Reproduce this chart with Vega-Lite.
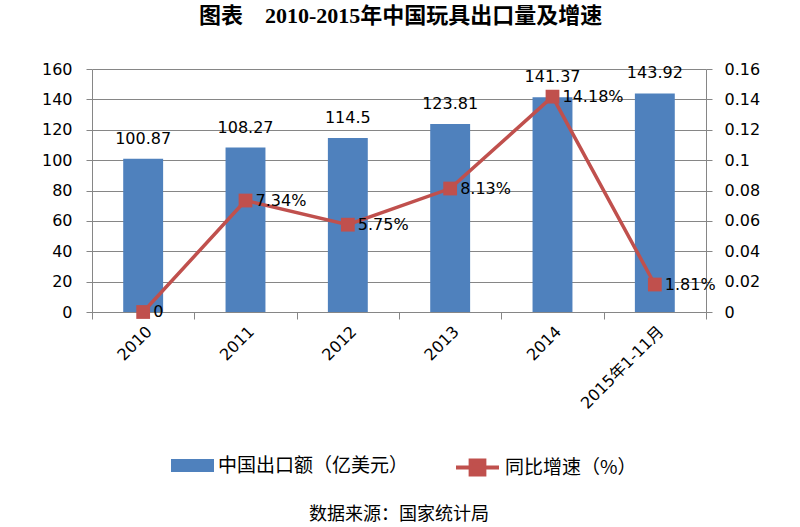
{
  "$schema": "https://vega.github.io/schema/vega-lite/v6.json",
  "padding": {"left": 41, "top": 5, "right": 5, "bottom": 5},
  "title": {
    "text": "图表　2010-2015年中国玩具出口量及增速",
    "font": "Liberation Serif, Noto Sans CJK SC",
    "fontSize": 22,
    "fontWeight": "bold",
    "color": "#000",
    "anchor": "middle",
    "offset": 33
  },
  "datasets": {
    "toys": [
      {"cat": "2010", "export": 100.87, "rate": 0, "rate_label": "0"},
      {"cat": "2011", "export": 108.27, "rate": 0.0734, "rate_label": "7.34%"},
      {"cat": "2012", "export": 114.5, "rate": 0.0575, "rate_label": "5.75%"},
      {"cat": "2013", "export": 123.81, "rate": 0.0813, "rate_label": "8.13%"},
      {"cat": "2014", "export": 141.37, "rate": 0.1418, "rate_label": "14.18%"},
      {"cat": "2015年1-11月", "export": 143.92, "rate": 0.0181, "rate_label": "1.81%"}
    ]
  },
  "vconcat": [
    {
      "width": 614,
      "height": 243,
      "title": {
        "text": "数据来源：国家统计局",
        "orient": "bottom",
        "font": "Noto Sans CJK SC",
        "fontSize": 18,
        "fontWeight": "normal",
        "color": "#000",
        "anchor": "middle",
        "offset": 95
      },
      "data": {"name": "toys"},
      "layer": [
        {
          "layer": [
            {
              "mark": {"type": "bar", "width": {"band": 0.39}},
              "encoding": {
                "x": {
                  "field": "cat", "type": "nominal", "sort": null,
                  "scale": {"paddingInner": 0, "paddingOuter": 0},
                  "axis": {"title": null, "labelAngle": -45, "tickBand": "extent", "tickSize": 7, "labelPadding": 4, "labelFont": "DejaVu Sans, Noto Sans CJK SC"}
                },
                "y": {
                  "field": "export", "type": "quantitative",
                  "scale": {"domain": [0, 160], "nice": false},
                  "axis": {"title": null, "orient": "left", "values": [0, 20, 40, 60, 80, 100, 120, 140, 160], "tickCount": 9, "labelOverlap": false, "grid": true, "tickSize": 6, "labelPadding": 14}
                },
                "fill": {
                  "datum": "中国出口额（亿美元）", "type": "nominal",
                  "scale": {"range": ["#4F81BD"]},
                  "legend": {
                    "title": null, "orient": "none", "legendX": 79, "legendY": 375,
                    "symbolType": "M-1,-0.3H1V0.3H-1Z", "symbolSize": 1849, "symbolStrokeWidth": 0,
                    "labelFont": "Noto Sans CJK SC", "labelFontSize": 19, "labelColor": "#000", "labelLimit": 400, "labelOffset": 4, "padding": 0
                  }
                }
              }
            },
            {
              "mark": {"type": "text", "dy": -20, "font": "DejaVu Sans", "fontSize": 16, "color": "#000"},
              "encoding": {
                "x": {"field": "cat", "type": "nominal", "sort": null},
                "y": {"field": "export", "type": "quantitative"},
                "text": {"field": "export", "type": "quantitative", "format": "~g"}
              }
            }
          ]
        },
        {
          "layer": [
            {
              "mark": {"type": "line", "strokeWidth": 3.5},
              "encoding": {
                "x": {"field": "cat", "type": "nominal", "sort": null},
                "y": {
                  "field": "rate", "type": "quantitative",
                  "scale": {"domain": [0, 0.16], "nice": false},
                  "axis": {"title": null, "orient": "right", "values": [0, 0.02, 0.04, 0.06, 0.08, 0.1, 0.12, 0.14, 0.16], "tickCount": 9, "labelOverlap": false, "format": "~g", "grid": false, "tickSize": 6, "labelPadding": 12}
                },
                "stroke": {
                  "datum": "同比增速（%）", "type": "nominal",
                  "scale": {"range": ["#C0504D"]},
                  "legend": {
                    "title": null, "orient": "none", "legendX": 362, "legendY": 375,
                    "symbolType": "M-1,0H1M-0.32,-0.32H0.32V0.32H-0.32Z", "symbolSize": 1849, "symbolStrokeWidth": 4, "symbolFillColor": "#C0504D",
                    "labelFont": "Noto Sans CJK SC", "labelFontSize": 19, "labelColor": "#000", "labelLimit": 400, "labelOffset": 4, "padding": 0
                  }
                }
              }
            },
            {
              "mark": {"type": "point", "shape": "square", "filled": true, "size": 190, "color": "#C0504D", "opacity": 1},
              "encoding": {
                "x": {"field": "cat", "type": "nominal", "sort": null},
                "y": {"field": "rate", "type": "quantitative"}
              }
            },
            {
              "mark": {"type": "text", "align": "left", "dx": 10, "font": "DejaVu Sans", "fontSize": 16, "color": "#000"},
              "encoding": {
                "x": {"field": "cat", "type": "nominal", "sort": null},
                "y": {"field": "rate", "type": "quantitative"},
                "text": {"field": "rate_label", "type": "nominal"}
              }
            }
          ]
        }
      ],
      "resolve": {"scale": {"y": "independent"}}
    }
  ],
  "config": {
    "view": {"stroke": null},
    "axis": {
      "labelFont": "DejaVu Sans",
      "labelFontSize": 16,
      "labelColor": "#000",
      "domainColor": "#868686",
      "tickColor": "#868686",
      "gridColor": "#868686",
      "gridOpacity": 1
    }
  }
}
